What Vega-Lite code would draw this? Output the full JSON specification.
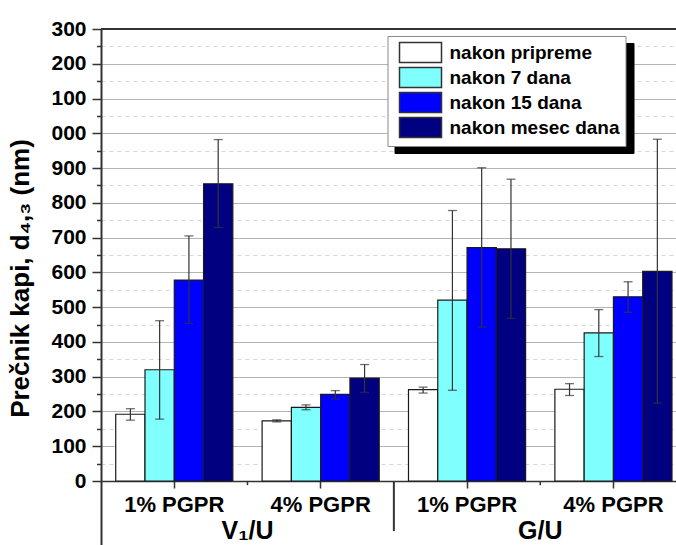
{
  "$schema": "https://vega.github.io/schema/vega-lite/v6.json",
  "width": 575,
  "height": 516,
  "autosize": {"type": "none"},
  "padding": {"left": 101, "top": 29, "right": 0, "bottom": 0},
  "background": "white",
  "config": {
    "font": "Liberation Sans",
    "view": {"stroke": null},
    "legend": {
      "title": null,
      "orient": "none",
      "padding": 5,
      "symbolOffset": 6,
      "symbolType": "M-1,-0.96H3V0.96H-1Z",
      "symbolSize": 441,
      "symbolStrokeWidth": 1.5,
      "labelFont": "Liberation Sans",
      "labelFontSize": 19,
      "labelFontWeight": "bold",
      "labelColor": "black",
      "labelOffset": 28,
      "labelLimit": 300,
      "rowPadding": -4
    }
  },
  "data": {
    "values": [
      {"solvent": "V₁/U", "group": "V₁/U|1% PGPR", "pgpr": "1% PGPR", "period": "nakon pripreme", "d": 192, "lo": 175, "hi": 208},
      {"solvent": "V₁/U", "group": "V₁/U|1% PGPR", "pgpr": "1% PGPR", "period": "nakon 7 dana", "d": 320, "lo": 178, "hi": 461},
      {"solvent": "V₁/U", "group": "V₁/U|1% PGPR", "pgpr": "1% PGPR", "period": "nakon 15 dana", "d": 578, "lo": 453, "hi": 705},
      {"solvent": "V₁/U", "group": "V₁/U|1% PGPR", "pgpr": "1% PGPR", "period": "nakon mesec dana", "d": 855, "lo": 729, "hi": 982},
      {"solvent": "V₁/U", "group": "V₁/U|4% PGPR", "pgpr": "4% PGPR", "period": "nakon pripreme", "d": 173, "lo": 170, "hi": 176},
      {"solvent": "V₁/U", "group": "V₁/U|4% PGPR", "pgpr": "4% PGPR", "period": "nakon 7 dana", "d": 212, "lo": 205, "hi": 219},
      {"solvent": "V₁/U", "group": "V₁/U|4% PGPR", "pgpr": "4% PGPR", "period": "nakon 15 dana", "d": 249, "lo": 236, "hi": 260},
      {"solvent": "V₁/U", "group": "V₁/U|4% PGPR", "pgpr": "4% PGPR", "period": "nakon mesec dana", "d": 296, "lo": 255, "hi": 335},
      {"solvent": "G/U", "group": "G/U|1% PGPR", "pgpr": "1% PGPR", "period": "nakon pripreme", "d": 263, "lo": 253, "hi": 270},
      {"solvent": "G/U", "group": "G/U|1% PGPR", "pgpr": "1% PGPR", "period": "nakon 7 dana", "d": 520, "lo": 261, "hi": 778},
      {"solvent": "G/U", "group": "G/U|1% PGPR", "pgpr": "1% PGPR", "period": "nakon 15 dana", "d": 671, "lo": 443, "hi": 901},
      {"solvent": "G/U", "group": "G/U|1% PGPR", "pgpr": "1% PGPR", "period": "nakon mesec dana", "d": 668, "lo": 468, "hi": 868},
      {"solvent": "G/U", "group": "G/U|4% PGPR", "pgpr": "4% PGPR", "period": "nakon pripreme", "d": 264, "lo": 246, "hi": 280},
      {"solvent": "G/U", "group": "G/U|4% PGPR", "pgpr": "4% PGPR", "period": "nakon 7 dana", "d": 426, "lo": 358, "hi": 493},
      {"solvent": "G/U", "group": "G/U|4% PGPR", "pgpr": "4% PGPR", "period": "nakon 15 dana", "d": 530, "lo": 485, "hi": 573},
      {"solvent": "G/U", "group": "G/U|4% PGPR", "pgpr": "4% PGPR", "period": "nakon mesec dana", "d": 603, "lo": 224, "hi": 983}
    ]
  },
  "layer": [
    {
      "mark": {"type": "bar", "stroke": "#1a1a1a", "strokeWidth": 1.2},
      "encoding": {
        "x": {
          "field": "group",
          "type": "nominal",
          "scale": {
            "domain": ["V₁/U|1% PGPR", "V₁/U|4% PGPR", "G/U|1% PGPR", "G/U|4% PGPR"],
            "paddingInner": 0.2,
            "paddingOuter": 0.064,
            "align": 0.786
          },
          "axis": {"title": null, "orient": "bottom", "offset": -64, "grid": false, "domainColor": "#333333", "domainWidth": 1.5, "tickColor": "#333333", "tickWidth": 1.5, "tickSize": 7, "labelAngle": 0, "labelExpr": "split(datum.value, '|')[1]", "labelFontSize": 22, "labelFontWeight": "bold", "labelColor": "black", "labelPadding": 6}
        },
        "xOffset": {
          "field": "period",
          "type": "nominal",
          "scale": {
            "domain": ["nakon pripreme", "nakon 7 dana", "nakon 15 dana", "nakon mesec dana"],
            "paddingInner": 0,
            "paddingOuter": 0
          }
        },
        "y": {
          "field": "d",
          "type": "quantitative",
          "stack": null,
          "scale": {"domain": [-184, 1300], "nice": false, "zero": false},
          "axis": {"values": [0, 50, 100, 150, 200, 250, 300, 350, 400, 450, 500, 550, 600, 650, 700, 750, 800, 850, 900, 950, 1000, 1050, 1100, 1150, 1200, 1250, 1300], "title": "Prečnik kapi, d₄,₃ (nm)", "titleFontSize": 26, "titleFontWeight": "bold", "titleColor": "black", "titleX": -68, "titleY": 249, "labelExpr": "datum.value % 100 !== 0 ? '' : (datum.value >= 1000 ? substring(toString(datum.value), 1) : toString(datum.value))", "labelFontSize": 21, "labelFontWeight": "bold", "labelColor": "black", "labelPadding": 6, "labelOverlap": false, "tickSize": {"condition": {"test": "datum.value % 100 === 0", "value": 9}, "value": 4.5}, "tickColor": "#333333", "tickWidth": 1.5, "domainColor": "#333333", "domainWidth": 2, "grid": true, "gridColor": {"condition": {"test": "datum.value % 100 === 0", "value": "#b4b4b4"}, "value": "#d6d6d6"}, "gridDash": {"condition": {"test": "datum.value % 100 === 0", "value": []}, "value": [4, 4]}, "gridWidth": 1}
        },
        "fill": {
          "field": "period",
          "type": "nominal",
          "scale": {
            "domain": ["nakon pripreme", "nakon 7 dana", "nakon 15 dana", "nakon mesec dana"],
            "range": ["#ffffff", "#80ffff", "#0000ff", "#000080"]
          },
          "legend": {"legendX": 286.5, "legendY": 7, "zindex": 3, "strokeColor": "#8a8a8a", "fillColor": "white", "symbolStrokeColor": "#333333"}
        }
      }
    },
    {
      "mark": {"type": "rule", "color": "#333333", "strokeWidth": 1.2},
      "encoding": {
        "x": {"field": "group", "type": "nominal",
          "axis": {"title": null, "orient": "bottom", "offset": -64, "grid": false, "domainColor": "#333333", "domainWidth": 1.5, "tickColor": "#333333", "tickWidth": 1.5, "tickSize": 7, "labelAngle": 0, "labelExpr": "split(datum.value, '|')[1]", "labelFontSize": 22, "labelFontWeight": "bold", "labelColor": "black", "labelPadding": 6}},
        "xOffset": {"field": "period", "type": "nominal"},
        "y": {"field": "lo", "type": "quantitative",
          "axis": {"values": [0, 50, 100, 150, 200, 250, 300, 350, 400, 450, 500, 550, 600, 650, 700, 750, 800, 850, 900, 950, 1000, 1050, 1100, 1150, 1200, 1250, 1300], "title": "Prečnik kapi, d₄,₃ (nm)", "titleFontSize": 26, "titleFontWeight": "bold", "titleColor": "black", "titleX": -68, "titleY": 249, "labelExpr": "datum.value % 100 !== 0 ? '' : (datum.value >= 1000 ? substring(toString(datum.value), 1) : toString(datum.value))", "labelFontSize": 21, "labelFontWeight": "bold", "labelColor": "black", "labelPadding": 6, "labelOverlap": false, "tickSize": {"condition": {"test": "datum.value % 100 === 0", "value": 9}, "value": 4.5}, "tickColor": "#333333", "tickWidth": 1.5, "domainColor": "#333333", "domainWidth": 2, "grid": true, "gridColor": {"condition": {"test": "datum.value % 100 === 0", "value": "#b4b4b4"}, "value": "#d6d6d6"}, "gridDash": {"condition": {"test": "datum.value % 100 === 0", "value": []}, "value": [4, 4]}, "gridWidth": 1}},
        "y2": {"field": "hi"},
        "opacity": {
          "field": "period",
          "type": "ordinal",
          "scale": {"range": [1, 1, 1, 1]},
          "legend": {"legendX": 293.5, "legendY": 14, "zindex": 2, "strokeColor": "black", "fillColor": "black", "symbolStrokeColor": "black", "symbolFillColor": "black", "labelExpr": "''", "labelOffset": 200}
        }
      }
    },
    {
      "mark": {"type": "tick", "color": "#333333", "thickness": 1.3, "size": 9},
      "encoding": {
        "x": {"field": "group", "type": "nominal",
          "axis": {"title": null, "orient": "bottom", "offset": -64, "grid": false, "domainColor": "#333333", "domainWidth": 1.5, "tickColor": "#333333", "tickWidth": 1.5, "tickSize": 7, "labelAngle": 0, "labelExpr": "split(datum.value, '|')[1]", "labelFontSize": 22, "labelFontWeight": "bold", "labelColor": "black", "labelPadding": 6}},
        "xOffset": {"field": "period", "type": "nominal"},
        "y": {"field": "lo", "type": "quantitative",
          "axis": {"values": [0, 50, 100, 150, 200, 250, 300, 350, 400, 450, 500, 550, 600, 650, 700, 750, 800, 850, 900, 950, 1000, 1050, 1100, 1150, 1200, 1250, 1300], "title": "Prečnik kapi, d₄,₃ (nm)", "titleFontSize": 26, "titleFontWeight": "bold", "titleColor": "black", "titleX": -68, "titleY": 249, "labelExpr": "datum.value % 100 !== 0 ? '' : (datum.value >= 1000 ? substring(toString(datum.value), 1) : toString(datum.value))", "labelFontSize": 21, "labelFontWeight": "bold", "labelColor": "black", "labelPadding": 6, "labelOverlap": false, "tickSize": {"condition": {"test": "datum.value % 100 === 0", "value": 9}, "value": 4.5}, "tickColor": "#333333", "tickWidth": 1.5, "domainColor": "#333333", "domainWidth": 2, "grid": true, "gridColor": {"condition": {"test": "datum.value % 100 === 0", "value": "#b4b4b4"}, "value": "#d6d6d6"}, "gridDash": {"condition": {"test": "datum.value % 100 === 0", "value": []}, "value": [4, 4]}, "gridWidth": 1}}
      }
    },
    {
      "mark": {"type": "tick", "color": "#333333", "thickness": 1.3, "size": 9},
      "encoding": {
        "x": {"field": "group", "type": "nominal",
          "axis": {"title": null, "orient": "bottom", "offset": -64, "grid": false, "domainColor": "#333333", "domainWidth": 1.5, "tickColor": "#333333", "tickWidth": 1.5, "tickSize": 7, "labelAngle": 0, "labelExpr": "split(datum.value, '|')[1]", "labelFontSize": 22, "labelFontWeight": "bold", "labelColor": "black", "labelPadding": 6}},
        "xOffset": {"field": "period", "type": "nominal"},
        "y": {"field": "hi", "type": "quantitative",
          "axis": {"values": [0, 50, 100, 150, 200, 250, 300, 350, 400, 450, 500, 550, 600, 650, 700, 750, 800, 850, 900, 950, 1000, 1050, 1100, 1150, 1200, 1250, 1300], "title": "Prečnik kapi, d₄,₃ (nm)", "titleFontSize": 26, "titleFontWeight": "bold", "titleColor": "black", "titleX": -68, "titleY": 249, "labelExpr": "datum.value % 100 !== 0 ? '' : (datum.value >= 1000 ? substring(toString(datum.value), 1) : toString(datum.value))", "labelFontSize": 21, "labelFontWeight": "bold", "labelColor": "black", "labelPadding": 6, "labelOverlap": false, "tickSize": {"condition": {"test": "datum.value % 100 === 0", "value": 9}, "value": 4.5}, "tickColor": "#333333", "tickWidth": 1.5, "domainColor": "#333333", "domainWidth": 2, "grid": true, "gridColor": {"condition": {"test": "datum.value % 100 === 0", "value": "#b4b4b4"}, "value": "#d6d6d6"}, "gridDash": {"condition": {"test": "datum.value % 100 === 0", "value": []}, "value": [4, 4]}, "gridWidth": 1}}
      }
    },
    {
      "data": {"values": [{}]},
      "mark": {"type": "rule", "color": "#333333", "strokeWidth": 2},
      "encoding": {
        "y": {"datum": 1300, "type": "quantitative",
          "axis": {"values": [0, 50, 100, 150, 200, 250, 300, 350, 400, 450, 500, 550, 600, 650, 700, 750, 800, 850, 900, 950, 1000, 1050, 1100, 1150, 1200, 1250, 1300], "title": "Prečnik kapi, d₄,₃ (nm)", "titleFontSize": 26, "titleFontWeight": "bold", "titleColor": "black", "titleX": -68, "titleY": 249, "labelExpr": "datum.value % 100 !== 0 ? '' : (datum.value >= 1000 ? substring(toString(datum.value), 1) : toString(datum.value))", "labelFontSize": 21, "labelFontWeight": "bold", "labelColor": "black", "labelPadding": 6, "labelOverlap": false, "tickSize": {"condition": {"test": "datum.value % 100 === 0", "value": 9}, "value": 4.5}, "tickColor": "#333333", "tickWidth": 1.5, "domainColor": "#333333", "domainWidth": 2, "grid": true, "gridColor": {"condition": {"test": "datum.value % 100 === 0", "value": "#b4b4b4"}, "value": "#d6d6d6"}, "gridDash": {"condition": {"test": "datum.value % 100 === 0", "value": []}, "value": [4, 4]}, "gridWidth": 1}}
      }
    },
    {
      "data": {"values": [{}]},
      "mark": {"type": "rule", "color": "#333333", "strokeWidth": 2},
      "encoding": {
        "x": {"datum": "V₁/U|4% PGPR", "type": "nominal", "bandPosition": 1.125,
          "axis": {"title": null, "orient": "bottom", "offset": -64, "grid": false, "domainColor": "#333333", "domainWidth": 1.5, "tickColor": "#333333", "tickWidth": 1.5, "tickSize": 7, "labelAngle": 0, "labelExpr": "split(datum.value, '|')[1]", "labelFontSize": 22, "labelFontWeight": "bold", "labelColor": "black", "labelPadding": 6}},
        "y": {"datum": 0, "type": "quantitative",
          "axis": {"values": [0, 50, 100, 150, 200, 250, 300, 350, 400, 450, 500, 550, 600, 650, 700, 750, 800, 850, 900, 950, 1000, 1050, 1100, 1150, 1200, 1250, 1300], "title": "Prečnik kapi, d₄,₃ (nm)", "titleFontSize": 26, "titleFontWeight": "bold", "titleColor": "black", "titleX": -68, "titleY": 249, "labelExpr": "datum.value % 100 !== 0 ? '' : (datum.value >= 1000 ? substring(toString(datum.value), 1) : toString(datum.value))", "labelFontSize": 21, "labelFontWeight": "bold", "labelColor": "black", "labelPadding": 6, "labelOverlap": false, "tickSize": {"condition": {"test": "datum.value % 100 === 0", "value": 9}, "value": 4.5}, "tickColor": "#333333", "tickWidth": 1.5, "domainColor": "#333333", "domainWidth": 2, "grid": true, "gridColor": {"condition": {"test": "datum.value % 100 === 0", "value": "#b4b4b4"}, "value": "#d6d6d6"}, "gridDash": {"condition": {"test": "datum.value % 100 === 0", "value": []}, "value": [4, 4]}, "gridWidth": 1}},
        "y2": {"datum": -144}
      }
    },
    {
      "transform": [{"filter": "datum.pgpr === '1% PGPR' && datum.period === 'nakon pripreme'"}],
      "mark": {"type": "rule", "color": "#333333", "strokeWidth": 1.5},
      "encoding": {
        "x": {"field": "group", "type": "nominal", "bandPosition": 1.125,
          "axis": {"title": null, "orient": "bottom", "offset": -64, "grid": false, "domainColor": "#333333", "domainWidth": 1.5, "tickColor": "#333333", "tickWidth": 1.5, "tickSize": 7, "labelAngle": 0, "labelExpr": "split(datum.value, '|')[1]", "labelFontSize": 22, "labelFontWeight": "bold", "labelColor": "black", "labelPadding": 6}},
        "y": {"datum": 0, "type": "quantitative",
          "axis": {"values": [0, 50, 100, 150, 200, 250, 300, 350, 400, 450, 500, 550, 600, 650, 700, 750, 800, 850, 900, 950, 1000, 1050, 1100, 1150, 1200, 1250, 1300], "title": "Prečnik kapi, d₄,₃ (nm)", "titleFontSize": 26, "titleFontWeight": "bold", "titleColor": "black", "titleX": -68, "titleY": 249, "labelExpr": "datum.value % 100 !== 0 ? '' : (datum.value >= 1000 ? substring(toString(datum.value), 1) : toString(datum.value))", "labelFontSize": 21, "labelFontWeight": "bold", "labelColor": "black", "labelPadding": 6, "labelOverlap": false, "tickSize": {"condition": {"test": "datum.value % 100 === 0", "value": 9}, "value": 4.5}, "tickColor": "#333333", "tickWidth": 1.5, "domainColor": "#333333", "domainWidth": 2, "grid": true, "gridColor": {"condition": {"test": "datum.value % 100 === 0", "value": "#b4b4b4"}, "value": "#d6d6d6"}, "gridDash": {"condition": {"test": "datum.value % 100 === 0", "value": []}, "value": [4, 4]}, "gridWidth": 1}},
        "y2": {"datum": -12}
      }
    },
    {
      "transform": [{"filter": "datum.pgpr === '1% PGPR' && datum.period === 'nakon pripreme'"}],
      "mark": {"type": "text", "font": "Liberation Sans", "fontSize": 25, "fontWeight": "bold", "color": "black", "baseline": "middle", "dy": 50},
      "encoding": {
        "x": {"field": "group", "type": "nominal", "bandPosition": 1.125,
          "axis": {"title": null, "orient": "bottom", "offset": -64, "grid": false, "domainColor": "#333333", "domainWidth": 1.5, "tickColor": "#333333", "tickWidth": 1.5, "tickSize": 7, "labelAngle": 0, "labelExpr": "split(datum.value, '|')[1]", "labelFontSize": 22, "labelFontWeight": "bold", "labelColor": "black", "labelPadding": 6}},
        "y": {"datum": 0, "type": "quantitative",
          "axis": {"values": [0, 50, 100, 150, 200, 250, 300, 350, 400, 450, 500, 550, 600, 650, 700, 750, 800, 850, 900, 950, 1000, 1050, 1100, 1150, 1200, 1250, 1300], "title": "Prečnik kapi, d₄,₃ (nm)", "titleFontSize": 26, "titleFontWeight": "bold", "titleColor": "black", "titleX": -68, "titleY": 249, "labelExpr": "datum.value % 100 !== 0 ? '' : (datum.value >= 1000 ? substring(toString(datum.value), 1) : toString(datum.value))", "labelFontSize": 21, "labelFontWeight": "bold", "labelColor": "black", "labelPadding": 6, "labelOverlap": false, "tickSize": {"condition": {"test": "datum.value % 100 === 0", "value": 9}, "value": 4.5}, "tickColor": "#333333", "tickWidth": 1.5, "domainColor": "#333333", "domainWidth": 2, "grid": true, "gridColor": {"condition": {"test": "datum.value % 100 === 0", "value": "#b4b4b4"}, "value": "#d6d6d6"}, "gridDash": {"condition": {"test": "datum.value % 100 === 0", "value": []}, "value": [4, 4]}, "gridWidth": 1}},
        "text": {"field": "solvent"}
      }
    }
  ]
}
